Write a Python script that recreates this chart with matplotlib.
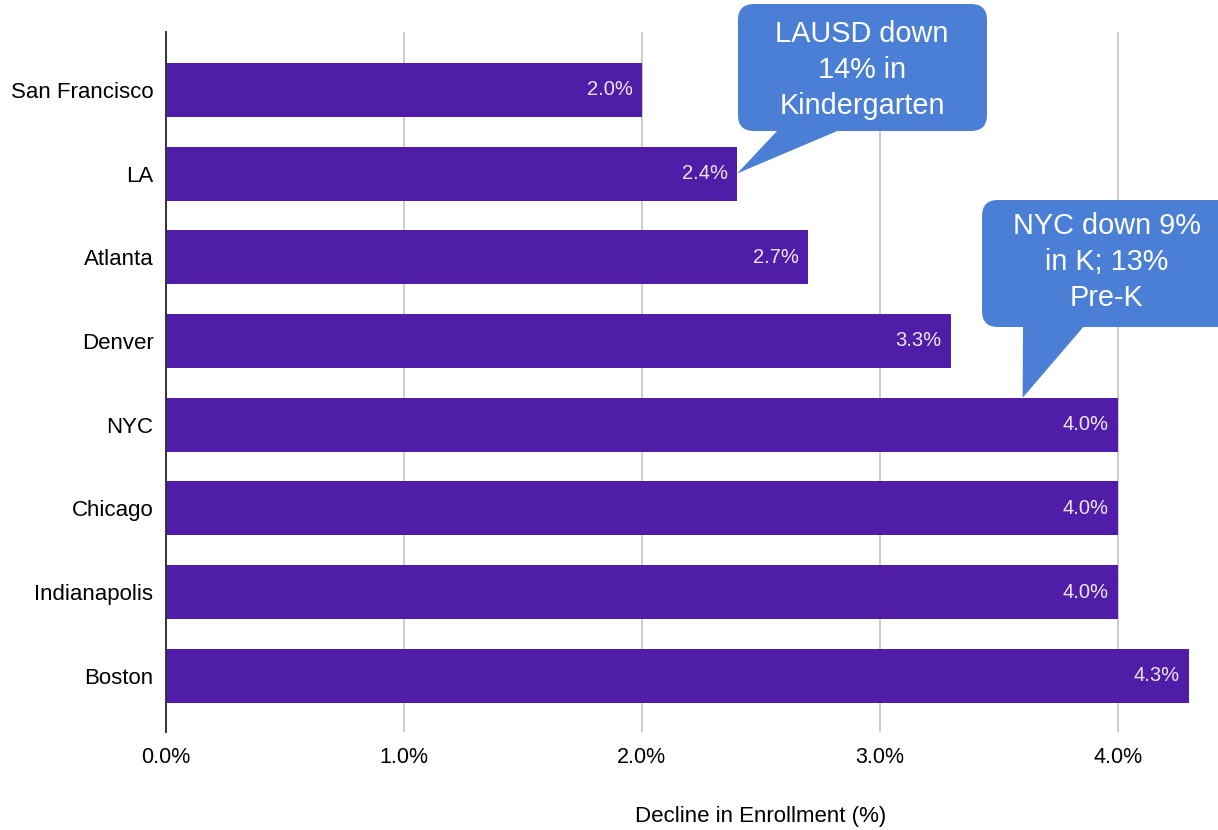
import matplotlib.pyplot as plt
from matplotlib import rc
from matplotlib.patches import FancyBboxPatch, Polygon

rc('font', **{'family': 'sans-serif', 'sans-serif': ['Liberation Sans', 'DejaVu Sans']})

cities = ['San Francisco', 'LA', 'Atlanta', 'Denver', 'NYC', 'Chicago', 'Indianapolis', 'Boston']
decline = [2.0, 2.4, 2.7, 3.3, 4.0, 4.0, 4.0, 4.3]
xticks = [0, 1, 2, 3, 4]
xticklabels = ['0.0%', '1.0%', '2.0%', '3.0%', '4.0%']

bar_color = '#501da9'
callout_color = '#4a7fd5'

W, H = 1218, 830
fig = plt.figure(figsize=(W/100, H/100), dpi=100)
ax = fig.add_axes([166/W, 1-732/H, (1213-166)/W, 700/H])

ypos = list(range(len(cities)))
ax.barh(ypos, decline, height=0.645, color=bar_color, zorder=3)
for y, v in zip(ypos, decline):
    ax.text(v - 0.04, y, f'{v:.1f}%', color='#ece6f5', fontsize=14.5,
            ha='right', va='center', zorder=4)

ax.set_xlim(0, 4.4)
ax.set_ylim(7.67, -0.69)
ax.set_yticks(ypos)
ax.set_yticklabels(cities, fontsize=16)
ax.set_xticks(xticks)
ax.set_xticklabels(xticklabels, fontsize=15.5)
ax.tick_params(axis='both', length=0)
ax.tick_params(axis='x', pad=11)
ax.tick_params(axis='y', pad=9)
ax.grid(axis='x', color='#cccccc', linewidth=1.4, zorder=0)
for s in ['top', 'right', 'bottom']:
    ax.spines[s].set_visible(False)
ax.spines['left'].set_color('#333333')
ax.spines['left'].set_linewidth(1.4)
ax.spines['left'].set_zorder(5)

ax.set_xlabel('Decline in Enrollment (%)', fontsize=16)
ax.xaxis.set_label_coords((761-166)/(1213-166), -(816-732)/700, transform=ax.transAxes)
ax.xaxis.label.set_va('center')


# callouts: box and tail in pixel positions (top-left origin), tip from data
def px(x, y):
    return (x / W, 1 - y / H)


def callout(text, x0, y0, x1, y1, base_l, base_r, tip_data, tx, ty):
    tip = fig.transFigure.inverted().transform(ax.transData.transform(tip_data))
    bx, by = px(x0, y1)
    fig.patches.append(FancyBboxPatch(
        (bx, by), (x1 - x0) / W, (y1 - y0) / H,
        boxstyle=f'round,pad=0,rounding_size={16/W}',
        mutation_aspect=W / H, transform=fig.transFigure,
        fc=callout_color, ec='none', zorder=6))
    fig.patches.append(Polygon(
        [px(base_l, y1 - 2), px(base_r, y1 - 2), tuple(tip)],
        closed=True, transform=fig.transFigure,
        fc=callout_color, ec='none', zorder=6))
    fig.text(*px(tx, ty), text, ha='center', va='center', fontsize=20.8,
             color='white', linespacing=1.36, zorder=7)


callout('LAUSD down\n14% in\nKindergarten', 738, 4, 987, 131, 779, 842,
        (decline[1], 1), 862, 70)
callout('NYC down 9%\nin K; 13%\nPre-K', 982, 200, 1240, 327, 1023, 1085,
        (3.6, 4 - 0.322), 1107, 262)

fig.savefig('out.png', dpi=100)
